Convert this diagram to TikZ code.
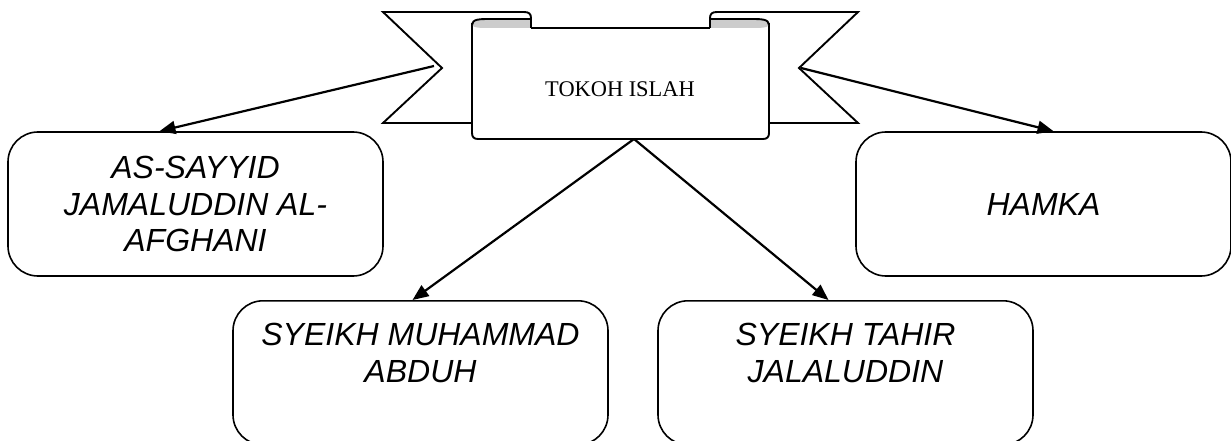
\documentclass[tikz,border=0pt]{standalone}
\usepackage{fontspec}
\setmainfont{Liberation Serif}
\newfontfamily\arialfont{Liberation Sans}
\usetikzlibrary{arrows.meta}
\begin{document}
\begin{tikzpicture}[x=1pt,y=-1pt,
  person/.style={draw, line width=1.6pt, rounded corners=30pt, inner sep=0pt,
    minimum width=375pt, minimum height=144pt, align=center,
    font=\arialfont\itshape\fontsize{32}{36.5}\selectfont},
  lower/.style={person, inner xsep=0pt, inner ysep=22pt, text height=59.5pt, text depth=40.5pt, anchor=north},
  link/.style={line width=2.2pt, -{Triangle[length=16pt,width=13pt]}},
  banner/.style={line width=1.9pt, line join=miter},
  curl/.style={fill=black!20, draw=none}]
\clip (0,0) rectangle (1231,441);
% back ribbons
\filldraw[banner, fill=white] (472,123) -- (383,123) -- (442,68) -- (383,12) -- (524,12)
  .. controls (529,12) and (531,14) .. (531,18) -- (531,28);
\filldraw[banner, fill=white] (769,123) -- (858,123) -- (799,68) -- (858,12) -- (717,12)
  .. controls (712,12) and (710,14) .. (710,18) -- (710,28);
% front body
\fill[white] (472,23) rectangle (769,139);
\draw[banner] (472,23) -- (472,133) .. controls (472,137) and (474,139) .. (478,139)
  -- (763,139) .. controls (767,139) and (769,137) .. (769,133) -- (769,23);
\draw[banner] (531,28) -- (710,28);
% curls
\fill[curl] (472,24) .. controls (472,19) and (480,19) .. (490,19) -- (531,19) -- (531,28)
  -- (490,28) .. controls (480,28) and (472,28) .. (472,24) -- cycle;
\draw[banner] (472,25) .. controls (472,19) and (480,19) .. (490,19) -- (531,19);
\draw[banner] (531,17) -- (531,28);
\fill[curl] (769,24) .. controls (769,19) and (761,19) .. (751,19) -- (710,19) -- (710,28)
  -- (751,28) .. controls (761,28) and (769,28) .. (769,24) -- cycle;
\draw[banner] (769,25) .. controls (769,19) and (761,19) .. (751,19) -- (710,19);
\draw[banner] (710,17) -- (710,28);
\node[anchor=base, font=\fontsize{22.4}{26}\selectfont, inner sep=0pt] (title) at (620,97) {TOKOH ISLAH};
% anchor points of connectors on the banner
\coordinate (ln) at (434,66);
\coordinate (rn) at (801,68);
\coordinate (bt) at (634,139);
% boxes
\node[person] (a) at (195.5,204) {AS-SAYYID\\JAMALUDDIN AL-\\AFGHANI};
\node[person] (d) at (1043.5,204) {HAMKA};
\node[lower] (b) at (420.5,300) {SYEIKH MUHAMMAD\\ABDUH};
\node[lower] (c) at (845.5,300) {SYEIKH TAHIR\\JALALUDDIN};
% connectors
\draw[link] (ln) -- ([xshift=-36pt]a.north);
\draw[link] (rn) -- ([xshift=10pt]d.north);
\draw[link] (bt) -- ([xshift=-8pt]b.north);
\draw[link] (bt) -- ([xshift=-17pt]c.north);
\end{tikzpicture}
\end{document}
